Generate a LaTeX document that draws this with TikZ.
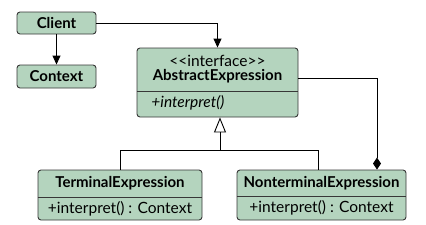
\documentclass[tikz,border=0pt]{standalone}
\usepackage{fontspec}
\setmainfont{Lato}
\usetikzlibrary{arrows.meta}
\definecolor{boxgreen}{RGB}{180,212,190}
\definecolor{boxline}{RGB}{55,55,55}

\begin{document}
\begin{tikzpicture}[x=1pt, y=-1pt, line width=0.9pt,
    umlbox/.style={draw=boxline, fill=boxgreen, rounded corners=3pt, inner sep=0pt},
    label/.style={inner sep=0pt, font=\fontsize{15.5}{17}\selectfont},
    bold/.style={label, font=\fontsize{15}{17}\selectfont\bfseries},
    >={Triangle[length=9pt, width=8pt]}]
    \useasboundingbox (0,0) rectangle (426,225);

    % boxes
    \node[umlbox, minimum width=79, minimum height=22] (client) at (56.5,23) {};
    \node[umlbox, minimum width=79, minimum height=23] (context) at (56.5,76.5) {};
    \node[umlbox, minimum width=161, minimum height=69] (abstract) at (217.5,82.5) {};
    \node[umlbox, minimum width=164, minimum height=50] (terminal) at (120,195) {};
    \node[umlbox, minimum width=169, minimum height=50] (nonterminal) at (321.5,195) {};

    % dividers
    \draw[boxline] (abstract.west |- 0,91) -- (abstract.east |- 0,91);
    \draw[boxline] (terminal.west |- 0,197) -- (terminal.east |- 0,197);
    \draw[boxline] (nonterminal.west |- 0,196) -- (nonterminal.east |- 0,196);

    % texts
    \node[bold] (clienttext) at (client) {Client};
    \node[bold] (contexttext) at (context) {Context};
    \node[label] (stereo) at (217.5,61) {{<}{<}interface{>}{>}};
    \node[bold] (abstracttext) at (217.5,76) {AbstractExpression};
    \node[label, anchor=west] (abstractop) at (151,103) {\itshape +interpret()};
    \node[bold] (terminaltext) at (120,183) {TerminalExpression};
    \node[label] (terminalop) at (120,209) {+interpret() : Context};
    \node[bold] (nonterminaltext) at (321.5,183) {NonterminalExpression};
    \node[label] (nonterminalop) at (321.5,208) {+interpret() : Context};

    % associations
    \draw[->] (client.south) -- (context.north);
    \draw[->] (client.east) -| (abstract.north);

    % generalization
    \coordinate (split) at (220,150);
    \draw[-{Triangle[open, length=15pt, width=12pt]}] (split) -- (abstract.south -| split);
    \draw (terminal.north) |- (split);
    \draw (nonterminal.north -| 318,0) |- (split);

    % composition
    \draw[-{Diamond[length=12pt, width=8pt]}] (abstract.east |- 0,78) -| (nonterminal.north -| 377,0);
\end{tikzpicture}
\end{document}
